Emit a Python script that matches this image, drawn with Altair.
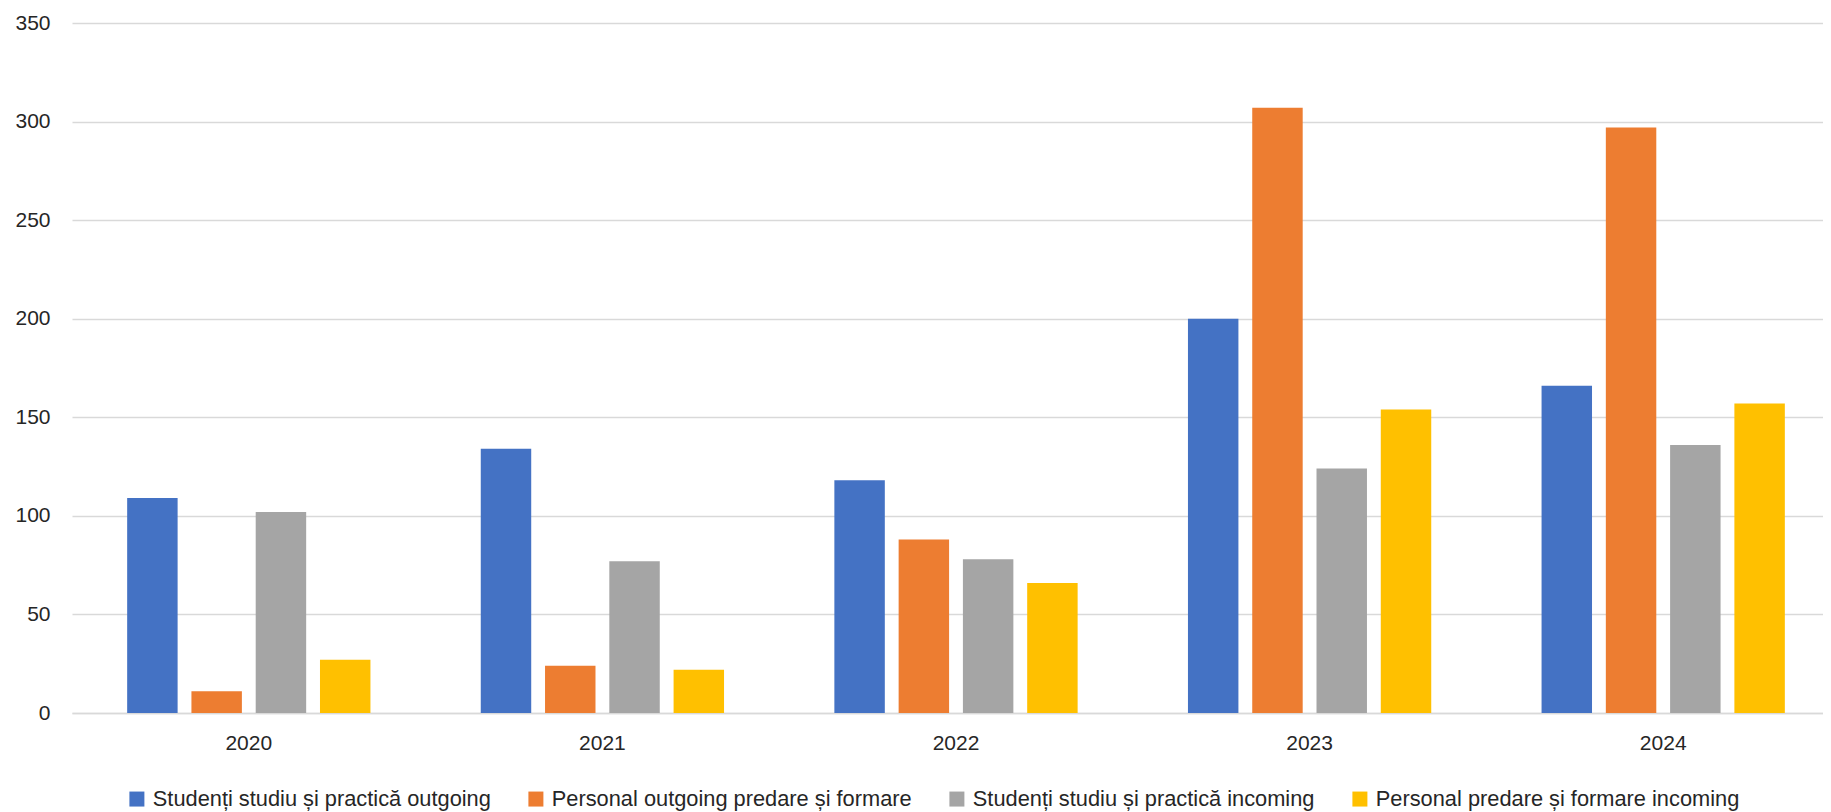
import altair as alt
import pandas as pd

years = ["2020", "2021", "2022", "2023", "2024"]
series = [
    "Studenți studiu și practică outgoing",
    "Personal outgoing predare și formare",
    "Studenți studiu și practică incoming",
    "Personal predare și formare incoming",
]
colors = ["#4472C4", "#ED7D31", "#A5A5A5", "#FFC000"]
values = {
    series[0]: [109, 134, 118, 200, 166],
    series[1]: [11, 24, 88, 307, 297],
    series[2]: [102, 77, 78, 124, 136],
    series[3]: [27, 22, 66, 154, 157],
}

rows = []
for s in series:
    for y, v in zip(years, values[s]):
        rows.append({"An": y, "Serie": s, "Valoare": v})
df = pd.DataFrame(rows)

font = "Liberation Sans"
txt = "#262626"

chart = alt.Chart(df).mark_bar().encode(
    x=alt.X("An:N", sort=years, title=None,
            scale=alt.Scale(paddingInner=0.312, paddingOuter=0.156, range=[0, 1768]),
            axis=alt.Axis(labelAngle=0, ticks=False, domainColor="#D9D9D9", domainWidth=1.5,
                          labelPadding=19, labelFontSize=21, labelFont=font, labelColor=txt)),
    xOffset=alt.XOffset("Serie:N", sort=series,
                        scale=alt.Scale(paddingInner=0.215, paddingOuter=0)),
    y=alt.Y("Valoare:Q", title=None,
            scale=alt.Scale(domain=[0, 350]),
            axis=alt.Axis(values=[0, 50, 100, 150, 200, 250, 300, 350], ticks=False, domain=False,
                          gridColor="#D9D9D9", gridWidth=1.5, labelPadding=22,
                          labelFontSize=21, labelFont=font, labelColor=txt)),
    color=alt.Color("Serie:N", sort=series,
                    scale=alt.Scale(domain=series, range=colors),
                    legend=alt.Legend(title=None, orient="none", direction="horizontal",
                                      legendX=54, legendY=765, padding=0,
                                      symbolType="square", symbolSize=225, symbolStrokeWidth=0,
                                      labelFont=font, labelFontSize=21.8, labelColor=txt,
                                      labelLimit=0, columnPadding=34, symbolOffset=0, labelOffset=5)),
).properties(
    width=1751, height=690,
    padding={"left": 64, "top": 15, "right": 0, "bottom": 98},
    autosize=alt.AutoSizeParams(type="none"),
).configure_view(stroke=None)

chart.save("out.html", embed_options={"renderer": "svg", "actions": False})
